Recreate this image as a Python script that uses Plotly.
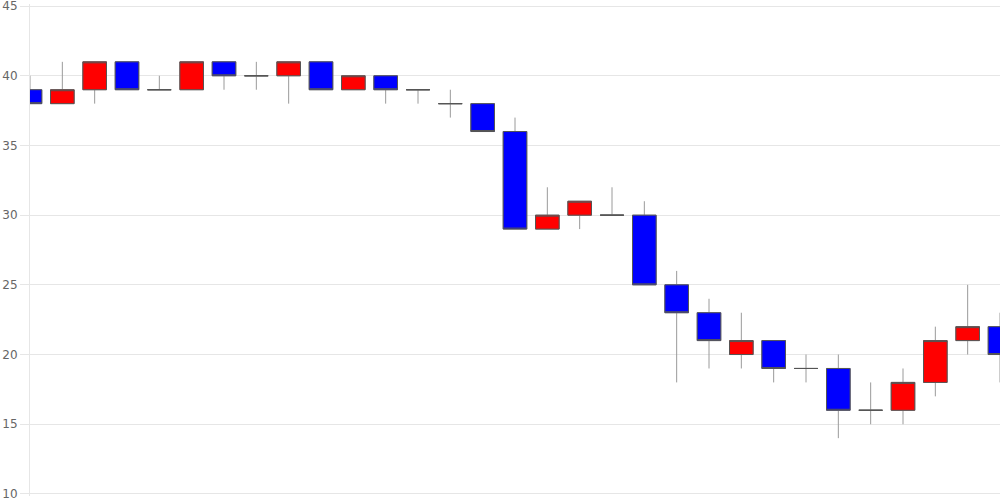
import numpy as np
import plotly.graph_objects as go

idx = list(range(31))
opens  = [39, 38, 39, 41, 39, 39, 41, 40, 40, 41, 39, 40, 39, 38, 38, 36, 29, 30, 30, 30, 25, 23, 20, 21, 19, 19, 16, 16, 18, 21, 22]
highs  = [40, 41, 41, 41, 40, 41, 41, 41, 41, 41, 40, 40, 39, 39, 38, 37, 32, 31, 32, 31, 26, 24, 23, 21, 20, 20, 18, 19, 22, 25, 23]
lows   = [38, 38, 38, 39, 39, 39, 39, 39, 38, 39, 39, 38, 38, 37, 36, 29, 29, 29, 30, 25, 18, 19, 19, 18, 18, 14, 15, 15, 17, 20, 18]
closes = [38, 39, 41, 39, 39, 41, 40, 40, 41, 39, 40, 39, 39, 38, 36, 29, 30, 31, 30, 25, 23, 21, 21, 19, 19, 16, 16, 18, 21, 22, 20]
y_ticks = [10, 15, 20, 25, 30, 35, 40, 45]

o = np.array(opens)
c = np.array(closes)
body_top = np.maximum(o, c)
body_bot = np.minimum(o, c)

fig = go.Figure()
# wicks (gray)
fig.add_trace(go.Candlestick(
    x=idx, open=opens, high=highs, low=lows, close=closes,
    increasing=dict(line=dict(color="#9a9a9a", width=1), fillcolor="#ff0000"),
    decreasing=dict(line=dict(color="#9a9a9a", width=1), fillcolor="#0000ff"),
    showlegend=False, hoverinfo="skip",
))
# bodies with darker outline
fig.add_trace(go.Candlestick(
    x=idx, open=opens, high=body_top.tolist(), low=body_bot.tolist(), close=closes,
    increasing=dict(line=dict(color="#555555", width=1), fillcolor="#ff0000"),
    decreasing=dict(line=dict(color="#555555", width=1), fillcolor="#0000ff"),
    showlegend=False,
))

fig.update_layout(
    width=1000, height=500,
    margin=dict(l=30, r=0, t=4, b=4),
    paper_bgcolor="white", plot_bgcolor="white",
    font=dict(family="DejaVu Sans, sans-serif", size=12, color="#666666"),
    showlegend=False,
    boxgap=0.27, boxgroupgap=0,
    xaxis=dict(range=[0, 30], showticklabels=False, showgrid=False, zeroline=False,
               rangeslider=dict(visible=False), showline=False, ticks="", automargin=False),
    yaxis=dict(range=[9.85, 45.15], tickvals=y_ticks, ticktext=[str(v) for v in y_ticks],
               showgrid=True, gridcolor="#e6e6e6", gridwidth=1, zeroline=False,
               showline=True, linecolor="#e6e6e6", linewidth=1,
               ticks="outside", ticklen=9, tickcolor="#e6e6e6", automargin=False,
               ticklabeloverflow="allow",
               tickfont=dict(family="DejaVu Sans, sans-serif", size=12, color="#666666")),
)

fig.write_html("out.html", config={"displayModeBar": False, "staticPlot": True},
               post_script="document.body.style.margin='0';document.body.style.padding='0';")
